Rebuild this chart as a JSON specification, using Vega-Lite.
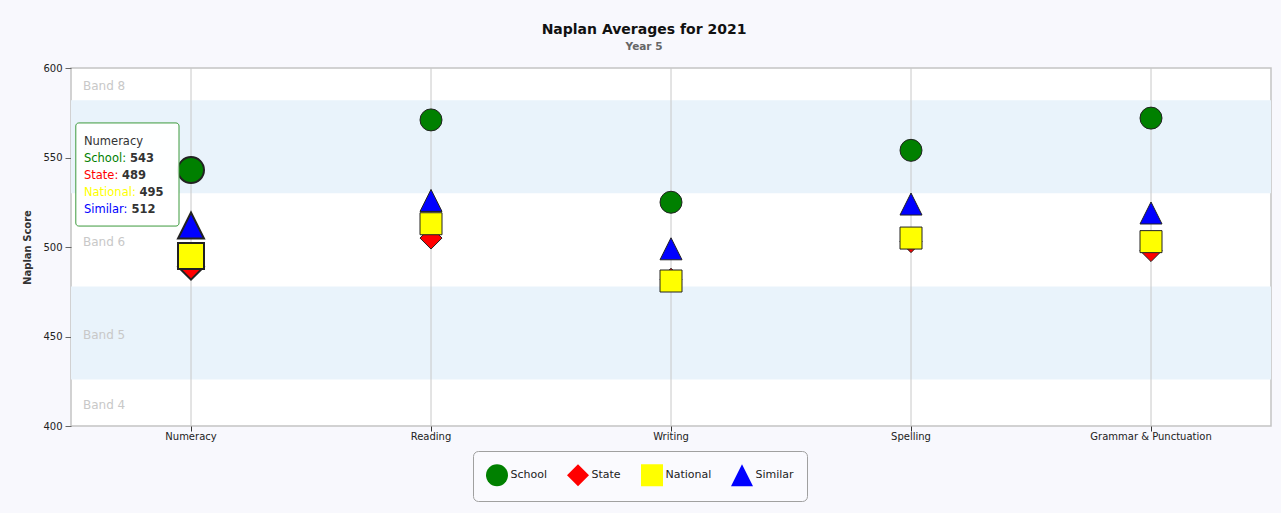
{
  "$schema": "https://vega.github.io/schema/vega-lite/v6.json",
  "width": 1200,
  "height": 358,
  "autosize": {"type": "none"},
  "padding": {"left": 71, "top": 68, "right": 10, "bottom": 87},
  "background": "#f8f8fd",
  "title": {
    "text": "Naplan Averages for 2021",
    "subtitle": "Year 5",
    "font": "DejaVu Sans",
    "fontSize": 14,
    "fontWeight": "bold",
    "color": "#111111",
    "subtitleFont": "DejaVu Sans",
    "subtitleFontSize": 10.5,
    "subtitleFontWeight": "bold",
    "subtitleColor": "#666666",
    "anchor": "middle",
    "dx": -27,
    "offset": 10.5,
    "subtitlePadding": 5
  },
  "config": {
    "view": {"fill": "white", "stroke": "#c4c4c4", "strokeWidth": 1.5},
    "font": "DejaVu Sans",
    "legend": {
      "orient": "none",
      "legendX": 402,
      "legendY": 383,
      "direction": "horizontal",
      "labelFont": "DejaVu Sans",
      "labelFontSize": 11,
      "labelColor": "#222222",
      "symbolSize": 484,
      "symbolStrokeColor": "#222222",
      "symbolStrokeWidth": 1,
      "labelOffset": 2,
      "columnPadding": 17,
      "padding": 12.5,
      "strokeColor": "#a0a0a0",
      "cornerRadius": 5,
      "fillColor": "#fafafe"
    }
  },
  "datasets": {
    "scores": [
      {"subject": "Numeracy", "series": "School", "value": 543},
      {"subject": "Numeracy", "series": "State", "value": 489},
      {"subject": "Numeracy", "series": "National", "value": 495},
      {"subject": "Numeracy", "series": "Similar", "value": 512},
      {"subject": "Reading", "series": "School", "value": 571},
      {"subject": "Reading", "series": "State", "value": 505},
      {"subject": "Reading", "series": "National", "value": 513},
      {"subject": "Reading", "series": "Similar", "value": 526},
      {"subject": "Writing", "series": "School", "value": 525},
      {"subject": "Writing", "series": "State", "value": 482},
      {"subject": "Writing", "series": "National", "value": 481},
      {"subject": "Writing", "series": "Similar", "value": 499},
      {"subject": "Spelling", "series": "School", "value": 554},
      {"subject": "Spelling", "series": "State", "value": 503},
      {"subject": "Spelling", "series": "National", "value": 505},
      {"subject": "Spelling", "series": "Similar", "value": 524},
      {"subject": "Grammar & Punctuation", "series": "School", "value": 572},
      {"subject": "Grammar & Punctuation", "series": "State", "value": 498},
      {"subject": "Grammar & Punctuation", "series": "National", "value": 503},
      {"subject": "Grammar & Punctuation", "series": "Similar", "value": 519}
    ],
    "bands": [
      {"band": "Band 4", "lo": 374, "hi": 426},
      {"band": "Band 5", "lo": 426, "hi": 478},
      {"band": "Band 6", "lo": 478, "hi": 530},
      {"band": "Band 7", "lo": 530, "hi": 582},
      {"band": "Band 8", "lo": 582, "hi": 634}
    ]
  },
  "resolve": {"scale": {"x": "independent", "y": "independent"}},
  "layer": [
    {
      "layer": [
        {
          "data": {"name": "bands"},
          "transform": [{"filter": "datum.band === 'Band 7' || datum.band === 'Band 5'"}],
          "mark": {"type": "rect", "fill": "#e9f3fb", "clip": true},
          "encoding": {
            "y": {"field": "lo", "type": "quantitative", "scale": {"domain": [400, 600], "nice": false, "zero": false}},
            "y2": {"field": "hi"}
          }
        },
        {
          "data": {"name": "scores"},
          "transform": [{"aggregate": [{"op": "count", "as": "n"}], "groupby": ["subject"]}],
          "mark": {"type": "rule", "color": "#c8c8c8", "strokeWidth": 1},
          "encoding": {
            "x": {
              "field": "subject", "type": "nominal", "sort": null,
              "scale": {"type": "band", "paddingInner": 0, "paddingOuter": 0},
              "axis": {"title": null, "labelAngle": 0, "labelFontSize": 10, "labelColor": "#222222", "tickColor": "#333333", "tickSize": 5, "labelPadding": 0, "domain": false, "grid": false}
            }
          }
        },
        {
          "data": {"name": "bands"},
          "transform": [{"calculate": "(max(datum.lo, 400) + min(datum.hi, 600)) / 2", "as": "mid"}],
          "mark": {"type": "text", "align": "left", "baseline": "middle", "dx": 12, "dy": 2, "fontSize": 12, "color": "#c8c8c8"},
          "encoding": {
            "x": {"datum": "Numeracy", "type": "nominal", "bandPosition": 0},
            "y": {"field": "mid", "type": "quantitative"},
            "text": {"field": "band"}
          }
        },
        {
          "data": {"name": "scores"},
          "mark": {"type": "point", "filled": true, "opacity": 1, "stroke": "#222222"},
          "encoding": {
            "x": {
              "field": "subject", "type": "nominal", "sort": null,
              "scale": {"type": "band", "paddingInner": 0, "paddingOuter": 0},
              "axis": {"title": null, "labelAngle": 0, "labelFontSize": 10, "labelColor": "#222222", "tickColor": "#333333", "tickSize": 5, "labelPadding": 0, "domain": false, "grid": false}
            },
            "y": {
              "field": "value", "type": "quantitative",
              "scale": {"domain": [400, 600], "nice": false, "zero": false},
              "axis": {"values": [400, 450, 500, 550, 600], "title": "Naplan Score", "titleFontSize": 10, "titleFontWeight": "bold", "titleColor": "#333333", "labelFontSize": 10, "labelColor": "#222222", "tickColor": "#666666", "tickSize": 6, "labelPadding": 3, "domain": false, "grid": false, "titlePadding": 10}
            },
            "fill": {
              "field": "series", "type": "nominal",
              "scale": {"domain": ["School", "State", "National", "Similar"], "range": ["#008000", "#ff0000", "#ffff00", "#0000ff"]},
              "legend": {"title": null, "encode": {"symbols": {"update": {"stroke": {"value": "#222222"}, "strokeWidth": {"value": 1}}}}}
            },
            "shape": {
              "field": "series", "type": "nominal",
              "scale": {"domain": ["School", "State", "National", "Similar"], "range": ["circle", "diamond", "square", "M0,-1L1,1L-1,1Z"]},
              "legend": {"title": null, "encode": {"symbols": {"update": {"stroke": {"value": "#222222"}, "strokeWidth": {"value": 1}}}}}
            },
            "size": {"condition": {"test": "datum.subject === 'Numeracy'", "value": 676}, "value": 484},
            "strokeWidth": {"condition": {"test": "datum.subject === 'Numeracy'", "value": 2}, "value": 1}
          }
        }
      ]
    },
    {
      "data": {"values": [{}]},
      "layer": [
        {
          "mark": {"type": "rect", "fill": "#ffffff", "fillOpacity": 0.93, "stroke": "#3c9a3c", "strokeWidth": 1, "cornerRadius": 3},
          "encoding": {
            "x": {"datum": 0.02, "type": "quantitative", "scale": {"domain": [0, 5], "nice": false, "zero": false}, "axis": null},
            "x2": {"datum": 0.45},
            "y": {"datum": 569.3, "type": "quantitative", "scale": {"domain": [400, 600], "nice": false, "zero": false}, "axis": null},
            "y2": {"datum": 511.7}
          }
        },
        {
          "mark": {"type": "text", "align": "left", "baseline": "top", "fontSize": 11.5, "fill": "#333333", "text": "Numeracy"},
          "encoding": {"x": {"datum": 0.054, "type": "quantitative"}, "y": {"datum": 561.8, "type": "quantitative"}}
        },
        {
          "mark": {"type": "text", "align": "left", "baseline": "top", "fontSize": 11.5, "fill": "#008000", "text": "School:"},
          "encoding": {"x": {"datum": 0.054, "type": "quantitative"}, "y": {"datum": 552.3, "type": "quantitative"}}
        },
        {
          "mark": {"type": "text", "align": "left", "baseline": "top", "fontSize": 11.5, "fontWeight": "bold", "fill": "#333333", "text": "543", "dx": 46},
          "encoding": {"x": {"datum": 0.054, "type": "quantitative"}, "y": {"datum": 552.3, "type": "quantitative"}}
        },
        {
          "mark": {"type": "text", "align": "left", "baseline": "top", "fontSize": 11.5, "fill": "#ff0000", "text": "State:"},
          "encoding": {"x": {"datum": 0.054, "type": "quantitative"}, "y": {"datum": 542.81, "type": "quantitative"}}
        },
        {
          "mark": {"type": "text", "align": "left", "baseline": "top", "fontSize": 11.5, "fontWeight": "bold", "fill": "#333333", "text": "489", "dx": 38},
          "encoding": {"x": {"datum": 0.054, "type": "quantitative"}, "y": {"datum": 542.81, "type": "quantitative"}}
        },
        {
          "mark": {"type": "text", "align": "left", "baseline": "top", "fontSize": 11.5, "fill": "#ffff00", "text": "National:"},
          "encoding": {"x": {"datum": 0.054, "type": "quantitative"}, "y": {"datum": 533.31, "type": "quantitative"}}
        },
        {
          "mark": {"type": "text", "align": "left", "baseline": "top", "fontSize": 11.5, "fontWeight": "bold", "fill": "#333333", "text": "495", "dx": 55.5},
          "encoding": {"x": {"datum": 0.054, "type": "quantitative"}, "y": {"datum": 533.31, "type": "quantitative"}}
        },
        {
          "mark": {"type": "text", "align": "left", "baseline": "top", "fontSize": 11.5, "fill": "#0000ff", "text": "Similar:"},
          "encoding": {"x": {"datum": 0.054, "type": "quantitative"}, "y": {"datum": 523.81, "type": "quantitative"}}
        },
        {
          "mark": {"type": "text", "align": "left", "baseline": "top", "fontSize": 11.5, "fontWeight": "bold", "fill": "#333333", "text": "512", "dx": 47.5},
          "encoding": {"x": {"datum": 0.054, "type": "quantitative"}, "y": {"datum": 523.81, "type": "quantitative"}}
        }
      ]
    }
  ]
}
